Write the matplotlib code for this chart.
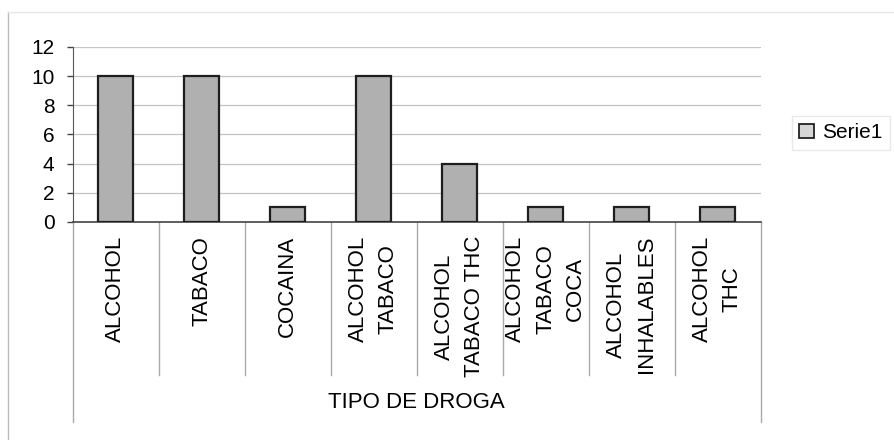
import numpy as np
import matplotlib.pyplot as plt
from matplotlib.lines import Line2D
from matplotlib.patches import Patch

plt.rcParams['font.family'] = ['Liberation Sans', 'DejaVu Sans']

categorias = ["ALCOHOL", "TABACO", "COCAINA", "ALCOHOL\nTABACO",
              "ALCOHOL\nTABACO THC", "ALCOHOL\nTABACO\nCOCA",
              "ALCOHOL\nINHALABLES", "ALCOHOL\nTHC"]
serie1 = [10, 10, 1, 10, 4, 1, 1, 1]
yticks = [0, 2, 4, 6, 8, 10, 12]

fig = plt.figure(figsize=(8.94, 4.4), dpi=100)
ax = fig.add_axes([0.0811, 0.4955, 0.7696, 0.3977])

x = np.arange(len(categorias))
ax.bar(x, serie1, width=0.4, color='#b0b0b0', edgecolor='#1e1e1e',
       linewidth=1.6, zorder=3, label='Serie1')

ax.set_xlim(-0.5, len(categorias) - 0.5)
ax.set_ylim(0, 12)
ax.set_yticks(yticks)
ax.tick_params(axis='y', labelsize=15, length=4, width=1, color='#444',
               pad=9)
ax.set_xticks(x)
ax.set_xticklabels(categorias, rotation=90, fontsize=16, linespacing=1.55,
                   ha='center', va='top', multialignment='center')
ax.tick_params(axis='x', length=0, pad=10)

ax.grid(axis='y', color='#c4c4c4', linewidth=0.9, zorder=0)
for s in ['top', 'right']:
    ax.spines[s].set_visible(False)
ax.spines['left'].set_color('#555')
ax.spines['bottom'].set_color('#444')
ax.spines['bottom'].set_linewidth(1.2)

# separators between categories below the axis
for b in np.arange(len(categorias) + 1) - 0.5:
    xa = (b + 0.5) / len(categorias)
    depth = -1.143 if b in (-0.5, len(categorias) - 0.5) else -0.874
    ax.plot([xa, xa], [0, depth], transform=ax.transAxes, clip_on=False,
            color='#aaaaaa', linewidth=1)

ax.text(0.5, -1.034, "TIPO DE DROGA", transform=ax.transAxes,
        ha='center', va='center', fontsize=16)

# chart frame
fig.add_artist(Line2D([0.009, 0.009], [0.0, 0.973], color='#bbbbbb', lw=1))
fig.add_artist(Line2D([0.009, 1.0], [0.973, 0.973], color='#e6e6e6', lw=1))

handle = Patch(facecolor='#d6d6d6', edgecolor='#222222', linewidth=1.3)
leg = fig.legend([handle], ['Serie1'], loc='center left',
                 bbox_to_anchor=(0.874, 0.698), fontsize=15, frameon=True,
                 fancybox=False, edgecolor='#e4e4e4', handlelength=0.7,
                 handleheight=0.7, handletextpad=0.4, borderpad=0.35)

fig.savefig('out.png', dpi=100)
